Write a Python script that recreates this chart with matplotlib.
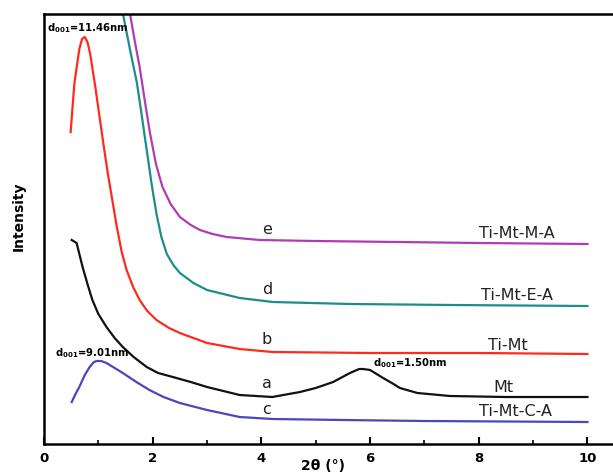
import matplotlib.pyplot as plt

# curve data (2theta in degrees, intensity in arbitrary units)
x_e = [1.50, 1.58, 1.68, 1.76, 1.85, 1.95, 2.06, 2.18, 2.33, 2.50, 2.70, 2.87, 3.10, 3.36, 3.97, 5.0, 6.5, 8.0, 10.0]
y_e = [480, 431, 400, 377, 345, 311, 280, 257, 240, 227, 219, 214, 210, 207, 204, 203, 202, 201, 200]

x_d = [1.38, 1.45, 1.58, 1.71, 1.80, 1.89, 1.98, 2.07, 2.16, 2.26, 2.38, 2.50, 2.75, 3.00, 3.30, 3.60, 4.21, 5.63, 7.5, 10.0]
y_d = [480, 431, 395, 361, 328, 294, 260, 230, 207, 190, 179, 171, 161, 154, 150, 146, 142, 140, 139, 138]

x_b = [0.49, 0.56, 0.65, 0.70, 0.75, 0.80, 0.85, 0.95, 1.08, 1.17, 1.26, 1.34, 1.43, 1.52, 1.64, 1.76, 1.90, 2.07, 2.30, 2.50, 3.00, 3.60, 4.20, 6.0, 8.0, 10.0]
y_b = [312, 361, 395, 405, 407, 402, 390, 355, 305, 272, 243, 217, 192, 174, 157, 144, 133, 124, 116, 111, 101, 95, 92, 91, 91, 90]

x_a = [0.51, 0.60, 0.71, 0.80, 0.89, 1.00, 1.15, 1.30, 1.45, 1.65, 1.89, 2.10, 2.37, 2.70, 3.00, 3.30, 3.60, 3.90, 4.20, 4.71, 5.00, 5.32, 5.63, 5.80, 5.87, 6.00, 6.12, 6.24, 6.40, 6.55, 6.87, 7.47, 8.5, 10.0]
y_a = [204, 201, 177, 160, 144, 130, 117, 106, 97, 87, 77, 71, 67, 62, 57, 53, 49, 48, 47, 52, 56, 62, 71, 75, 75, 74, 70, 66, 61, 56, 51, 48, 47, 47]

x_c = [0.51, 0.58, 0.65, 0.75, 0.84, 0.92, 0.97, 1.05, 1.15, 1.30, 1.45, 1.70, 1.94, 2.20, 2.50, 3.00, 3.60, 4.20, 5.5, 7.0, 10.0]
y_c = [42, 50, 57, 69, 77, 82, 83, 83, 81, 76, 71, 62, 54, 47, 41, 34, 27, 25, 24, 23, 22]

letters = ['e', 'd', 'b', 'a', 'c']
letter_y = [215, 154, 104, 61, 34]
names = ['Ti-Mt-M-A', 'Ti-Mt-E-A', 'Ti-Mt', 'Mt', 'Ti-Mt-C-A']
name_x = [8.0, 8.05, 8.17, 8.26, 8.0]
name_y = [211, 148, 99, 56, 32]
colors = ['#b03cb4', '#1c8c8c', '#ff2a1e', '#111111', '#4848b8']

fig = plt.figure(figsize=(6.13, 4.76), dpi=100)
ax = fig.add_axes([44 / 613, 32 / 476, 569 / 613, 430 / 476])

series = [(x_e, y_e), (x_d, y_d), (x_b, y_b), (x_a, y_a), (x_c, y_c)]
for (xs, ys), col in zip(series, colors):
    ax.plot(xs, ys, color=col, lw=1.6)

for lt, ly, nm, nx, ny in zip(letters, letter_y, names, name_x, name_y):
    ax.text(4.1, ly, lt, fontsize=11.5, ha='center', va='center', color='#222222')
    ax.text(nx, ny, nm, fontsize=11.5, ha='left', va='center', color='#222222')

ax.text(0.05, 416, r'd$_{\mathbf{001}}$=11.46nm', fontsize=7.2, fontweight='bold', va='center')
ax.text(0.2, 91, r'd$_{\mathbf{001}}$=9.01nm', fontsize=7.2, fontweight='bold', va='center')
ax.text(6.05, 81, r'd$_{\mathbf{001}}$=1.50nm', fontsize=7.2, fontweight='bold', va='center')

ax.set_xlim(0, 10.47)
ax.set_ylim(0, 430)
ax.set_xticks([0, 2, 4, 6, 8, 10])
ax.set_xticks([1, 3, 5, 7, 9], minor=True)
ax.set_yticks([])
ax.tick_params(axis='x', direction='in', length=5, width=1.5, labelsize=9.5, pad=6)
ax.tick_params(axis='x', which='minor', direction='in', length=3, width=1.2)
for lbl in ax.get_xticklabels():
    lbl.set_fontweight('bold')
ax.spines['right'].set_visible(False)
for s in ['left', 'top', 'bottom']:
    ax.spines[s].set_linewidth(1.8)

ax.set_xlabel('2θ (°)', fontsize=10, fontweight='bold', va='center')
ax.xaxis.set_label_coords(0.49, -0.052)
ax.set_ylabel('Intensity', fontsize=10, fontweight='bold', va='center')
ax.yaxis.set_label_coords(-0.045, 0.53)

fig.savefig('out.png', dpi=100)
